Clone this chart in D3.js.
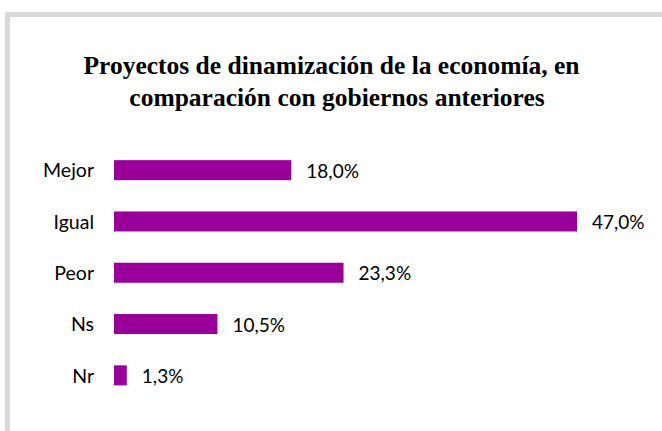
<!DOCTYPE html>
<html><head><meta charset="utf-8">
<script src="https://cdn.jsdelivr.net/npm/d3@7"></script>
<style>body{margin:0;background:#fff;}svg{display:block;}</style>
</head><body>
<script>
const categories = ["Mejor", "Igual", "Peor", "Ns", "Nr"];
const values = [18.0, 47.0, 23.3, 10.5, 1.3];
const titleLines = ["Proyectos de dinamización de la economía, en", "comparación con gobiernos anteriores"];

const W = 662, H = 431;
const svg = d3.select("body").append("svg").attr("width", W).attr("height", H);

// outer frame
svg.append("rect").attr("x", 7.5).attr("y", 14.5).attr("width", 700).attr("height", 500)
  .attr("fill", "#fff").attr("stroke", "#d9d9d9").attr("stroke-width", 5);

// title
svg.append("g").selectAll("text").data(titleLines).join("text")
  .attr("x", (d, i) => i === 0 ? 331.5 : 337)
  .attr("y", (d, i) => 74 + i * 32)
  .attr("text-anchor", "middle")
  .attr("font-family", "Liberation Serif, serif")
  .attr("font-weight", "bold")
  .attr("font-size", 25.5)
  .attr("fill", "#000")
  .text(d => d);

const x = d3.scaleLinear().domain([0, 47]).range([114, 577]);
const y = d3.scaleBand().domain(categories).range([144.5, 401]).paddingInner(0.61).paddingOuter(0.305);

const g = svg.append("g");
g.selectAll("rect.bar").data(values).join("rect").attr("class", "bar")
  .attr("x", x(0))
  .attr("y", (d, i) => y(categories[i]))
  .attr("width", d => x(d) - x(0))
  .attr("height", y.bandwidth())
  .attr("fill", "#990099");

g.selectAll("text.val").data(values).join("text").attr("class", "val")
  .attr("x", d => x(d) + 15)
  .attr("y", (d, i) => y(categories[i]) + y.bandwidth() / 2 + 1)
  .attr("dy", "0.35em")
  .attr("font-family", "Lato, sans-serif")
  .attr("font-size", 19)
  .attr("fill", "#000")
  .text(d => d.toFixed(1).replace(".", ",") + "%");

const yAxis = d3.axisLeft(y).tickSize(0).tickPadding(20);
const ag = svg.append("g").attr("transform", `translate(${x(0)},1)`).call(yAxis);
ag.select(".domain").remove();
ag.selectAll("text").attr("font-family", "Lato, sans-serif").attr("font-size", 19.5).attr("fill", "#000");
</script>
</body></html>
